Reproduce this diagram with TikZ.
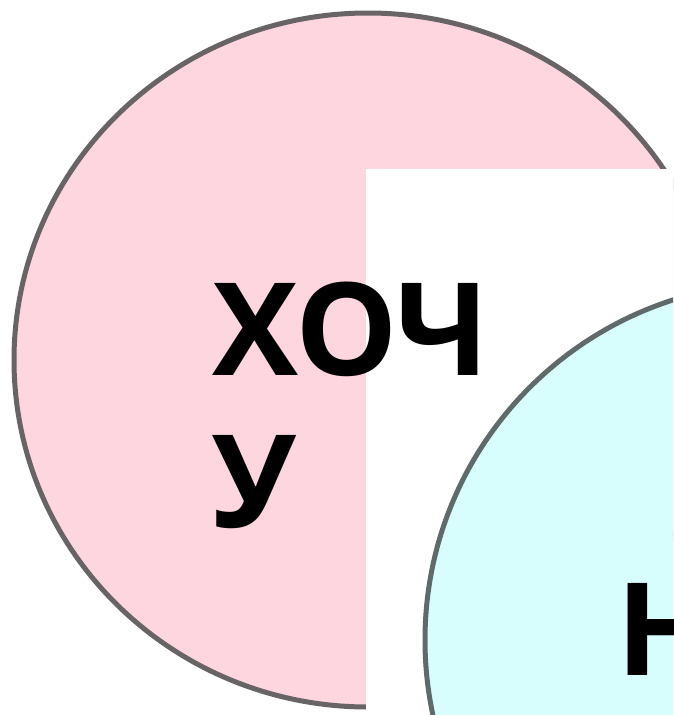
\documentclass[tikz,border=0pt]{standalone}
\usepackage{fontspec}
\newfontfamily\wordfont{Open Sans}
\usetikzlibrary{positioning}
\definecolor{wantpink}{HTML}{FDD6DF}
\definecolor{canaqua}{HTML}{D7FDFD}
\definecolor{rimgray}{HTML}{686466}
\definecolor{rimteal}{HTML}{5F6A6B}

\begin{document}
\begin{tikzpicture}[x=1pt,y=-1pt,
    rim/.style={line width=5pt},
    word/.style={font=\wordfont\bfseries\fontsize{129}{152}\selectfont,inner sep=0pt,align=left}]
  \useasboundingbox (0,0) rectangle (673,715);
  \clip (0,0) rectangle (673,715);
  \fill[white] (0,0) rectangle (673,715);
  % pink circle, partly covered by the white panel
  \path[rim,draw=rimgray,fill=wantpink] (368,360) ellipse [x radius=354pt, y radius=347pt];
  \fill[white] (366,169) rectangle (673,715);
  \path[rim,draw=rimteal,fill=canaqua] (782,640) circle [radius=357pt];
  \node[word,anchor=base west] (want) at (212,527) {ХОЧ\\У};
  \node[word,anchor=base west] (can) at (616,675) {Н};
\end{tikzpicture}
\end{document}
